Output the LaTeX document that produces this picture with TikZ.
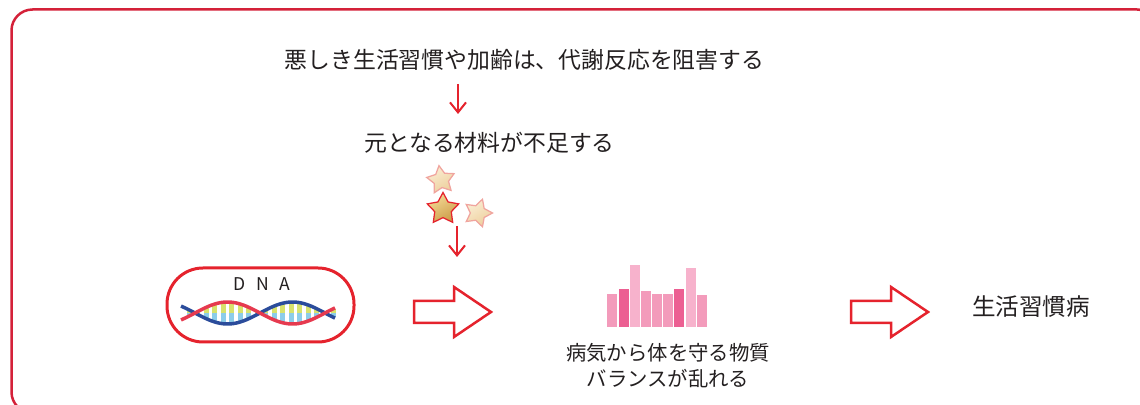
\documentclass[tikz,border=0pt]{standalone}
\usepackage{fontspec}
\setmainfont{Noto Sans CJK JP}
\usetikzlibrary{shapes.geometric,arrows.meta}
\definecolor{framered}{HTML}{D42139}
\definecolor{linered}{HTML}{E5232D}
\definecolor{textgray}{HTML}{231F20}
\definecolor{strandblue}{HTML}{2B4C9B}
\definecolor{strandred}{HTML}{E63A4F}
\definecolor{baseyellow}{HTML}{D8E26C}
\definecolor{baseblue}{HTML}{8CCDE9}
\definecolor{pinkmid}{HTML}{F39BBB}
\definecolor{pinkdark}{HTML}{EC5F92}
\definecolor{pinklight}{HTML}{F7B2CC}
\definecolor{palelight}{HTML}{FAEDD3}
\definecolor{paledark}{HTML}{EDCF9C}
\definecolor{paleedge}{HTML}{F0A49E}
\definecolor{goldlight}{HTML}{F3DA96}
\definecolor{golddark}{HTML}{CC9C48}
\begin{document}
\begin{tikzpicture}[x=0.2mm, y=-0.2mm,
    txt/.style={text=textgray, inner sep=0pt, font=\fontsize{13pt}{15pt}\selectfont},
    down/.style={linered, line width=0.4mm, -{Straight Barb[length=2mm,width=3.2mm]}},
    hollow/.style={linered, line width=0.5mm, fill=white, line join=miter},
    sparkle/.style={star, star points=5, star point ratio=1.9, inner sep=0pt, draw, line width=0.25mm},
    palestar/.style={sparkle, draw=paleedge, top color=palelight, bottom color=paledark, shading angle=30},
    goldstar/.style={sparkle, draw=linered, top color=goldlight, bottom color=golddark, shading angle=30},
    strand/.style={line width=0.7mm}]
    \useasboundingbox (0,0) rectangle (1140,405);
    \draw[framered, line width=0.5mm, rounded corners=4.2mm] (11.5,9.5) rectangle (1158,413);

    \node[txt] (cause) at (524.5,60) {悪しき生活習慣や加齢は、代謝反応を阻害する};
    \node[txt] (lack) at (489.5,143) {元となる材料が不足する};
    \coordinate (d1) at (458,84);
    \coordinate (d2) at (458,114);
    \draw[down] (d1) -- (d2);

    \node[palestar, minimum size=5.8mm, rotate=8] (star1) at (441,180) {};
    \node[goldstar, minimum size=6.6mm] (star2) at (443,209) {};
    \node[palestar, minimum size=5.8mm, rotate=-18] (star3) at (478,213) {};
    \coordinate (d3) at (457,226);
    \coordinate (d4) at (457,257);
    \draw[down] (d3) -- (d4);

    \node[draw=linered, line width=0.6mm, rounded corners=7.2mm, minimum width=37.4mm, minimum height=14.8mm] (dnabox) at (260.5,305) {};
    \node[text=textgray, font=\fontsize{10pt}{12pt}\selectfont] (dnalabel) at (262,284) {D\hspace{6pt}N\hspace{6pt}A};
    % one turn of the helix is 130 units wide
    \foreach \x in {189,197.5,...,335} {
      \pgfmathsetmacro\h{11*abs(sin(2.7692*(\x-195)))}
      \fill[baseyellow] (\x-2.5,313-\h) rectangle (\x+2.5,313);
      \fill[baseblue] (\x-2.5,313) rectangle (\x+2.5,313+\h);
    }
    \draw[strand, strandblue] plot[domain=181:335, samples=60] (\x,{313+11*sin(2.7692*(\x-195))});
    \draw[strand, strandred] plot[domain=181:335, samples=60] (\x,{313-11*sin(2.7692*(\x-195))});

    \foreach \x in {414,851}
      \draw[hollow] (\x,301) -- (\x+40,301) -- (\x+40,287) -- (\x+77,312) -- (\x+40,337) -- (\x+40,323) -- (\x,323) -- cycle;

    \foreach \x/\t/\c in {607/294/pinkmid, 619/289/pinkdark, 630/265/pinklight, 641/291/pinkmid, 652/294/pinkmid,
                          663/294/pinkmid, 674/289/pinkdark, 686/268/pinklight, 697/295/pinkmid}
      \fill[\c] (\x,\t) rectangle (\x+10,327);
    \node[txt, align=center, font=\fontsize{11.6pt}{14.7pt}\selectfont] (balance) at (668,366)
      {病気から体を守る物質\\バランスが乱れる};

    \node[txt, font=\fontsize{13.4pt}{15pt}\selectfont] (disease) at (1031,307) {生活習慣病};
\end{tikzpicture}
\end{document}
